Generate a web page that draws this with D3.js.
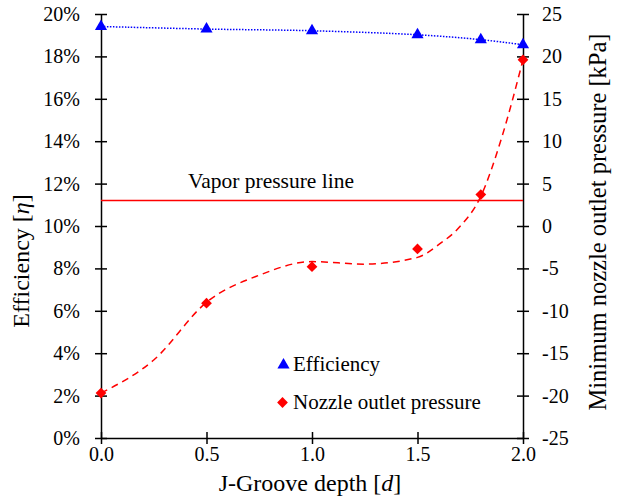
<!DOCTYPE html>
<html>
<head>
<meta charset="utf-8">
<script src="https://cdn.jsdelivr.net/npm/d3@7"></script>
<style>
  body { margin: 0; background: #fff; }
</style>
</head>
<body>
<div id="chart"></div>
<script>
// data
var depth = [0.0, 0.5, 1.0, 1.5, 1.8, 2.0];
var efficiency = [19.41, 19.29, 19.21, 19.02, 18.79, 18.55];   // %
var pressure = [-19.7, -9.1, -4.8, -2.7, 3.7, 19.6];            // kPa
// dashed trendline of the pressure
var trendDepth = [0.0, 0.25, 0.5, 0.75, 1.0, 1.25, 1.5, 1.6, 1.7, 1.8, 1.9, 2.0];
var trendPressure = [-19.7, -15.8, -9.0, -5.8, -4.2, -4.5, -3.7, -2.2, -0.1, 3.5, 10.5, 19.6];
var vaporPressure = 3.0;
var xTicks = [0, 0.5, 1.0, 1.5, 2.0];
var effTicks = [0, 2, 4, 6, 8, 10, 12, 14, 16, 18, 20];
var pTicks = [-25, -20, -15, -10, -5, 0, 5, 10, 15, 20, 25];

var width = 617, height = 500;
var margin = {top: 14, right: 94, bottom: 62, left: 101};
var serif = "'Liberation Serif', 'Times New Roman', serif";

var svg = d3.select('#chart').append('svg')
    .attr('width', width)
    .attr('height', height);

var x = d3.scaleLinear().domain([0, 2]).range([margin.left, width - margin.right]);
var yEff = d3.scaleLinear().domain([0, 20]).range([height - margin.bottom, margin.top]);
var yP = d3.scaleLinear().domain([-25, 25]).range([height - margin.bottom, margin.top]);

// axes: ticks cross the axis line
function styleAxis(g) {
    g.attr('font-family', null).attr('font-size', null);
    g.selectAll('path').attr('stroke', '#000').attr('stroke-width', 1.5);
    g.selectAll('line').attr('stroke', '#000').attr('stroke-width', 1.5);
    g.selectAll('text').style('font-family', serif).style('font-size', '20px').attr('fill', '#000');
}

var xAxis = svg.append('g')
    .attr('transform', 'translate(0,' + yEff(0) + ')')
    .call(d3.axisBottom(x).tickValues(xTicks).tickFormat(d3.format('.1f'))
        .tickSizeInner(6).tickSizeOuter(0).tickPadding(3));
xAxis.selectAll('.tick line').attr('y1', -6);
styleAxis(xAxis);

var leftAxis = svg.append('g')
    .attr('transform', 'translate(' + x(0) + ',0)')
    .call(d3.axisLeft(yEff).tickValues(effTicks).tickFormat(function(d) { return d + '%'; })
        .tickSizeInner(6).tickSizeOuter(0).tickPadding(15));
leftAxis.selectAll('.tick line').attr('x1', 6);
styleAxis(leftAxis);

var rightAxis = svg.append('g')
    .attr('transform', 'translate(' + x(2) + ',0)')
    .call(d3.axisRight(yP).tickValues(pTicks).tickFormat(function(d) { return String(d); })
        .tickSizeInner(6).tickSizeOuter(0).tickPadding(13));
rightAxis.selectAll('.tick line').attr('x1', -6);
styleAxis(rightAxis);

function label(sel, size) {
    return sel.style('font-family', serif).style('font-size', size + 'px').attr('fill', '#000');
}

// vapor pressure line
svg.append('line')
    .attr('x1', x(0)).attr('x2', x(2))
    .attr('y1', yP(vaporPressure)).attr('y2', yP(vaporPressure))
    .attr('stroke', '#ff0000').attr('stroke-width', 1.5);
label(svg.append('text'), 21.5)
    .attr('x', 188).attr('y', yP(vaporPressure) - 13)
    .text('Vapor pressure line');

// efficiency dotted trend
svg.append('path')
    .datum(depth)
    .attr('fill', 'none')
    .attr('stroke', '#0000ff')
    .attr('stroke-width', 1.5)
    .attr('stroke-dasharray', '1.5,1.5')
    .attr('d', d3.line()
        .x(function(d) { return x(d); })
        .y(function(d, i) { return yEff(efficiency[i]); })
        .curve(d3.curveCatmullRom));

// pressure dashed trend
svg.append('path')
    .datum(trendDepth)
    .attr('fill', 'none')
    .attr('stroke', '#ff0000')
    .attr('stroke-width', 1.5)
    .attr('stroke-dasharray', '7,5')
    .attr('d', d3.line()
        .x(function(d) { return x(d); })
        .y(function(d, i) { return yP(trendPressure[i]); })
        .curve(d3.curveMonotoneX));

var tri = d3.symbol().type(d3.symbolTriangle).size(64);
var dia = d3.symbol().type(d3.symbolSquare).size(58);

svg.append('g').selectAll('path')
    .data(depth)
    .enter().append('path')
    .attr('d', tri)
    .attr('fill', '#0000ff')
    .attr('transform', function(d, i) { return 'translate(' + x(d) + ',' + yEff(efficiency[i]) + ')'; });

svg.append('g').selectAll('path')
    .data(depth)
    .enter().append('path')
    .attr('d', dia)
    .attr('fill', '#ff0000')
    .attr('transform', function(d, i) { return 'translate(' + x(d) + ',' + yP(pressure[i]) + ') rotate(45)'; });

// legend
var legend = svg.append('g');
legend.append('path').attr('d', tri).attr('fill', '#0000ff')
    .attr('transform', 'translate(283.5,365)');
label(legend.append('text'), 21).attr('x', 293).attr('y', 371).text('Efficiency');
legend.append('path').attr('d', dia).attr('fill', '#ff0000')
    .attr('transform', 'translate(282.5,402.5) rotate(45)');
label(legend.append('text'), 21).attr('x', 293).attr('y', 408.5).text('Nozzle outlet pressure');

// axis titles
var xt = label(svg.append('text'), 24)
    .attr('x', 310).attr('y', 491)
    .attr('text-anchor', 'middle');
xt.append('tspan').text('J-Groove depth [');
xt.append('tspan').style('font-style', 'italic').text('d');
xt.append('tspan').text(']');

var lt = label(svg.append('text'), 24)
    .attr('transform', 'translate(29,261) rotate(-90)')
    .attr('text-anchor', 'middle');
lt.append('tspan').text('Efficiency [');
lt.append('tspan').style('font-style', 'italic').text('η');
lt.append('tspan').text(']');

label(svg.append('text'), 24.5)
    .attr('transform', 'translate(606,222) rotate(-90)')
    .attr('text-anchor', 'middle')
    .text('Minimum nozzle outlet pressure [kPa]');
</script>
</body>
</html>
